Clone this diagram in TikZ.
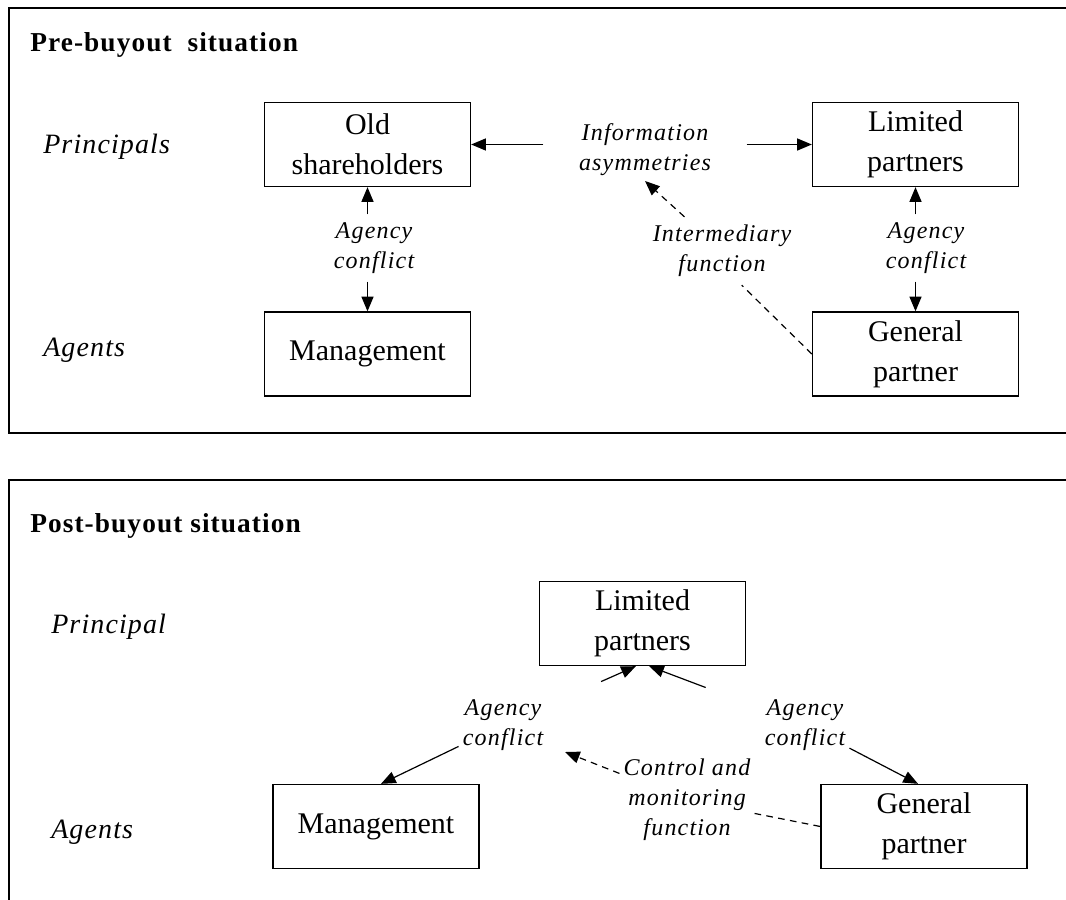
\documentclass[tikz,border=0pt]{standalone}
\usepackage{fontspec}
\setmainfont{Liberation Serif}
\newfontfamily\headfont[LetterSpace=4]{Liberation Serif}
\newfontfamily\rolefont[LetterSpace=4]{Liberation Serif}
\newfontfamily\lblfont[LetterSpace=5]{Liberation Serif}
\usetikzlibrary{arrows.meta, positioning}

\tikzset{
  partybox/.style={draw, line width=1pt, minimum width=154.5pt, minimum height=63pt,
    align=center, font=\fontsize{22.5pt}{30pt}\selectfont},
  headline/.style={anchor=base west, inner sep=0pt, font=\fontsize{20.5pt}{24pt}\selectfont\headfont\bfseries},
  rolelbl/.style={anchor=base west, inner sep=0pt, font=\fontsize{21pt}{24pt}\selectfont\rolefont\itshape},
  lbl/.style={align=center, inner xsep=3pt, inner ysep=6pt, font=\fontsize{18pt}{22.5pt}\selectfont\lblfont\itshape},
  arr/.style={-{Triangle[length=11pt,width=9pt]}, line width=0.9pt},
  dasharr/.style={arr, dash pattern=on 5pt off 4pt},
  dashln/.style={line width=0.9pt, dash pattern=on 5pt off 4pt},
  panel/.style={line width=1.4pt}
}

\begin{document}
\begin{tikzpicture}[x=0.75pt, y=-0.75pt]
\clip (0,0) rectangle (1066,899);
\draw[panel] (1080,8) -- (9,8) -- (9,433) -- (1080,433);
\draw[panel] (1080,480) -- (9,480) -- (9,905);

% pre-buyout
\node[headline] (pretitle) at (30,52) {Pre-buyout\ \ situation};
\node[rolelbl] (principals) at (43,153) {Principals};
\node[rolelbl] (agents) at (43,356) {Agents};
\node[partybox] (old) at (367.5,144.5) {Old\\shareholders};
\node[partybox] (mgmt) at (367.5,354) {Management};
\node[partybox] (lp) at (915.5,144.5) {Limited\\partners};
\node[partybox] (gp) at (915.5,354) {General\\partner};
\node[lbl, minimum width=152pt, inner ysep=3.5pt] (info) at (645,150) {Information\\asymmetries};
\node[lbl] (aglt) at (374,248) {Agency\\conflict};
\node[lbl] (agrt) at (926,248) {Agency\\conflict};
\node[lbl] (inter) at (722,251) {Intermediary\\function};
\draw[arr] (info.west |- old.east) -- (old.east);
\draw[arr] (info.east |- lp.west) -- (lp.west);
\draw[arr] (old.south |- aglt.north) -- (old.south);
\draw[arr] (mgmt.north |- aglt.south) -- (mgmt.north);
\draw[arr] (lp.south |- agrt.north) -- (lp.south);
\draw[arr] (gp.north |- agrt.south) -- (gp.north);
\draw[dasharr] (inter) -- (info.south);
\draw[dashln] (gp.west) -- (inter.-60);

% post-buyout
\node[headline] (posttitle) at (30,532) {Post-buyout situation};
\node[rolelbl] (principal) at (51,633) {Principal};
\node[rolelbl] (agents2) at (51,838) {Agents};
\node[partybox] (lp2) at (642.5,623.5) {Limited\\partners};
\node[partybox] (mgmt2) at (376,826.5) {Management};
\node[partybox] (gp2) at (924,826.5) {General\\partner};
\node[lbl] (agl) at (503,725) {Agency\\conflict};
\node[lbl] (agr) at (805,725) {Agency\\conflict};
\node[lbl] (ctrl) at (687,800) {Control and\\monitoring\\function};
\coordinate (ctrltip) at (565,752);
\draw[arr, shorten <=44pt] (agl) -- ([xshift=-5pt]lp2.south);
\draw[arr] (agl) -- ([xshift=3.75pt]mgmt2.north);
\draw[arr, shorten <=44pt] (agr) -- ([xshift=5pt]lp2.south);
\draw[arr] (agr) -- ([xshift=-4.5pt]gp2.north);
\draw[dasharr] (ctrl) -- (ctrltip);
\draw[dashln] (ctrl) -- (gp2.west);
\end{tikzpicture}
\end{document}
